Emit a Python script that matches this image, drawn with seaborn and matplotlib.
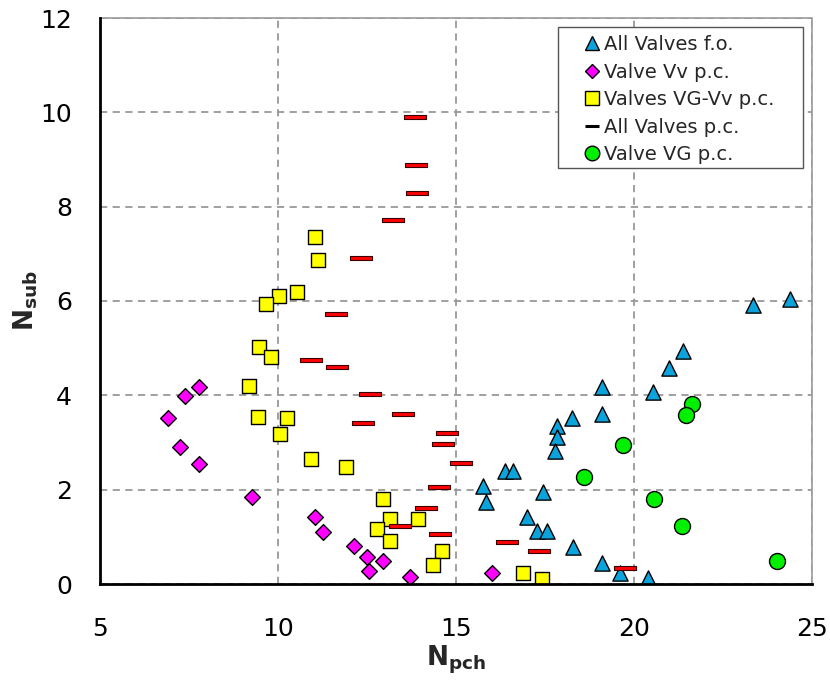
import numpy as np
import pandas as pd
import matplotlib
matplotlib.use("Agg")
import matplotlib.pyplot as plt
from matplotlib.path import Path
from matplotlib.lines import Line2D
from matplotlib.patches import Rectangle
import seaborn as sns

# ---- data ----
fo_x = [23.33, 24.37, 21.38, 20.97, 20.54, 19.09, 19.09, 18.25, 17.83, 17.83, 17.78,
        16.38, 16.59, 17.45, 15.75, 15.84, 17.00, 17.28, 17.57, 18.29, 19.09, 19.61, 20.38]
fo_y = [5.91, 6.04, 4.94, 4.58, 4.07, 4.18, 3.60, 3.52, 3.35, 3.11, 2.83,
        2.39, 2.39, 1.95, 2.08, 1.74, 1.41, 1.12, 1.12, 0.79, 0.44, 0.24, 0.12]

vv_x = [7.79, 7.40, 6.92, 7.25, 7.78, 9.27, 11.03, 11.26, 12.13, 12.51, 12.56, 12.94, 13.71, 16.00]
vv_y = [4.18, 3.98, 3.52, 2.90, 2.54, 1.85, 1.41, 1.10, 0.81, 0.57, 0.28, 0.48, 0.15, 0.24]

vgvv_x = [11.04, 11.11, 10.52, 10.04, 9.66, 9.48, 9.80, 9.19, 9.44, 10.24, 10.07, 10.92, 11.91,
          12.94, 13.15, 13.94, 12.77, 13.15, 14.62, 14.34, 16.89, 17.41]
vgvv_y = [7.36, 6.86, 6.19, 6.11, 5.93, 5.02, 4.81, 4.20, 3.55, 3.51, 3.18, 2.66, 2.49,
          1.80, 1.37, 1.37, 1.16, 0.92, 0.71, 0.40, 0.23, 0.11]

allpc_x = [13.85, 13.88, 13.91, 13.23, 12.32, 11.64, 10.93, 11.65, 12.58, 12.40, 13.50, 14.75,
           14.64, 15.14, 14.51, 14.16, 13.43, 14.55, 16.44, 17.33, 19.75]
allpc_y = [9.91, 8.88, 8.28, 7.72, 6.92, 5.73, 4.74, 4.60, 4.03, 3.42, 3.60, 3.21,
           2.97, 2.56, 2.06, 1.61, 1.24, 1.07, 0.88, 0.70, 0.34]

vg_x = [21.63, 21.47, 19.70, 18.59, 20.55, 21.36, 24.01]
vg_y = [3.82, 3.59, 2.94, 2.26, 1.80, 1.24, 0.49]

labels = ["All Valves f.o.", "Valve Vv p.c.", "Valves VG-Vv p.c.", "All Valves p.c.", "Valve VG p.c."]
x_ticks = [5, 10, 15, 20, 25]
y_ticks = [0, 2, 4, 6, 8, 10, 12]

# ---- style ----
sns.set_theme(style="white")
plt.rcParams['font.family'] = ['DejaVu Sans']
plt.rcParams['mathtext.fontset'] = 'dejavusans'

W, H = 830, 684
fig = plt.figure(figsize=(W / 100, H / 100), dpi=100)
ax = fig.add_axes([100/W, 1-584/H, 712/W, 566/H])

dash_marker = Path([(-1, -0.19), (1, -0.19), (1, 0.19), (-1, 0.19), (-1, -0.19)],
                   [Path.MOVETO, Path.LINETO, Path.LINETO, Path.LINETO, Path.CLOSEPOLY])

c_fo, c_vv, c_vgvv, c_pc, c_vg = "#0BA3DB", "#FF00FF", "#FFFF00", "#FF0000", "#00F000"

sns.scatterplot(x=fo_x, y=fo_y, marker="^", s=120, color=c_fo, edgecolor="black",
                linewidth=1.0, ax=ax, legend=False, zorder=3)
sns.scatterplot(x=vv_x, y=vv_y, marker="D", s=64, color=c_vv, edgecolor="black",
                linewidth=1.0, ax=ax, legend=False, zorder=3)
sns.scatterplot(x=vgvv_x, y=vgvv_y, marker="s", s=92, color=c_vgvv, edgecolor="black",
                linewidth=1.0, ax=ax, legend=False, zorder=3)
sns.scatterplot(x=allpc_x, y=allpc_y, marker=dash_marker, s=240, color=c_pc, edgecolor="#3a0000",
                linewidth=0.8, ax=ax, legend=False, zorder=4)
sns.scatterplot(x=vg_x, y=vg_y, marker="o", s=132, color=c_vg, edgecolor="black",
                linewidth=1.0, ax=ax, legend=False, zorder=4)

ax.set_xlim(5, 25)
ax.set_ylim(0, 12)
ax.set_xticks(x_ticks)
ax.set_yticks(y_ticks)
ax.set_xticklabels([str(v) for v in x_ticks])
ax.set_yticklabels([str(v) for v in y_ticks])
ax.tick_params(axis="both", length=0, labelsize=18, colors="black")
ax.tick_params(axis="x", pad=24)
ax.tick_params(axis="y", pad=20)

ax.grid(True, color="#999999", linestyle=(0, (4, 3)), linewidth=1.3)
ax.set_axisbelow(True)
for side in ["left", "bottom"]:
    ax.spines[side].set_color("black")
    ax.spines[side].set_linewidth(2.0)
    ax.spines[side].set_zorder(5)
for side in ["top", "right"]:
    ax.spines[side].set_color("#999999")
    ax.spines[side].set_linewidth(1.2)
    ax.spines[side].set_linestyle((0, (4, 1)))

ax.set_xlabel(r"$\mathbf{N_{pch}}$", fontsize=19, labelpad=2)
ax.set_ylabel(r"$\mathbf{N_{sub}}$", fontsize=19, labelpad=0)

# legend box (drawn as a patch) and legend entries
fig.patches.append(Rectangle((558/W, 1-168/H), 245/W, 141/H, transform=fig.transFigure,
                             facecolor="white", edgecolor="#555555", linewidth=1.0, zorder=6))
handles = [
    Line2D([], [], linestyle="none", marker="^", markersize=10, markerfacecolor=c_fo, markeredgecolor="black"),
    Line2D([], [], linestyle="none", marker="D", markersize=7.5, markerfacecolor=c_vv, markeredgecolor="black"),
    Line2D([], [], linestyle="none", marker="s", markersize=9.5, markerfacecolor=c_vgvv, markeredgecolor="black"),
    Line2D([], [], linestyle="none", marker="_", markersize=10, markeredgewidth=2.2, color="black"),
    Line2D([], [], linestyle="none", marker="o", markersize=10.5, markerfacecolor=c_vg, markeredgecolor="black"),
]
leg = fig.legend(handles, labels, loc="upper left", bbox_to_anchor=(582/W, 1-35/H),
                 bbox_transform=fig.transFigure, fontsize=14, frameon=False,
                 handlelength=1.0, handletextpad=0.15, borderpad=0, labelspacing=0.44,
                 borderaxespad=0)
leg.set_zorder(7)

fig.savefig("out.png", dpi=100)
